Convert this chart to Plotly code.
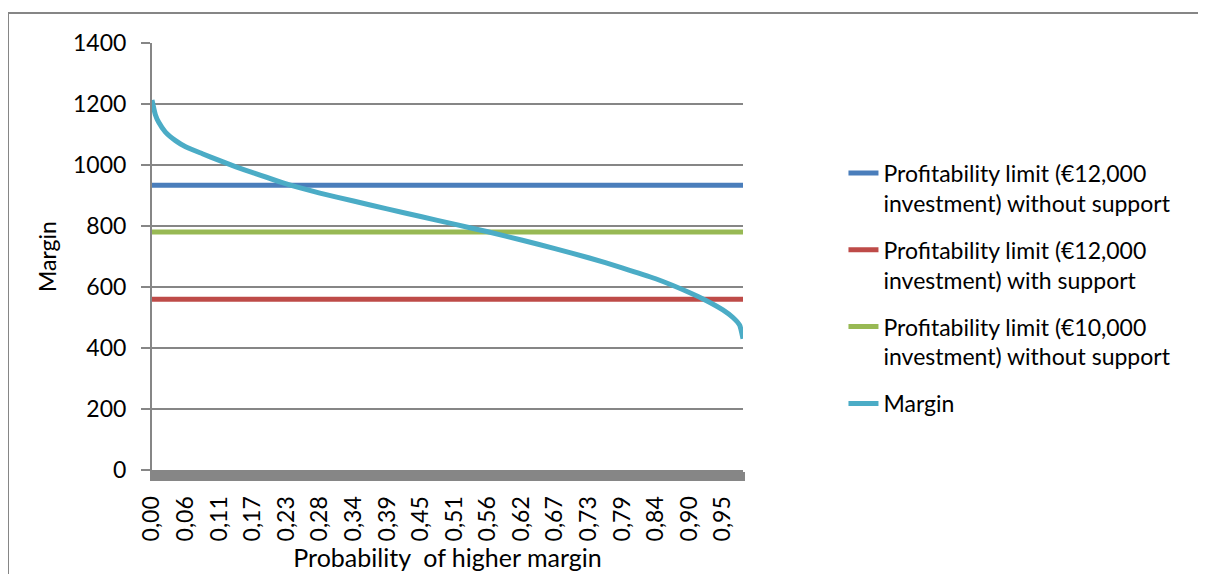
import plotly.graph_objects as go

# ---- data ----
n_categories = 177
tick_idx = [0, 10, 20, 30, 40, 50, 60, 70, 80, 90, 100, 110, 120, 130, 140, 150, 160, 170]
tick_labels = ["0,00", "0,06", "0,11", "0,17", "0,23", "0,28", "0,34", "0,39", "0,45",
               "0,51", "0,56", "0,62", "0,67", "0,73", "0,79", "0,84", "0,90", "0,95"]

margin_idx = [0, 1, 2, 4, 7, 10, 15, 20, 25, 30, 40, 50, 60, 70, 80, 90, 100,
              110, 120, 130, 140, 150, 160, 165, 170, 173, 175, 176]
margin_vals = [1213, 1165, 1140, 1108, 1080, 1060, 1037, 1015, 994, 975, 938, 908, 882, 856, 831, 806, 781,
               754, 726, 696, 663, 627, 582, 556, 525, 500, 475, 430]

limit_12k_no_support = 934
limit_12k_support = 560
limit_10k_no_support = 780

names = [
    "Profitability limit (€12,000<br>investment) without support",
    "Profitability limit (€12,000<br>investment) with support",
    "Profitability limit (€10,000<br>investment) without support",
    "Margin",
]
colors = ["#4A7EBB", "#BE4B48", "#98B954", "#4BACC6"]

FONT = "Lato"
FS = 23
GRAY = "#868686"

ends = [0, n_categories - 1]
fig = go.Figure()
for name, val, col in zip(names[:3], [limit_12k_no_support, limit_12k_support, limit_10k_no_support], colors[:3]):
    fig.add_trace(go.Scatter(x=ends, y=[val, val], mode="lines", name=name,
                             line=dict(color=col, width=5), legendgroup=name))
fig.add_trace(go.Scatter(x=margin_idx, y=margin_vals, mode="lines", name=names[3],
                         line=dict(color=colors[3], width=5, shape="spline", smoothing=0.5),
                         legendgroup=names[3]))

# page body has an 8px margin, so the figure is 16px smaller than the window
fig.update_layout(
    width=1190, height=566,
    margin=dict(l=144, r=455, t=35, b=104),
    paper_bgcolor="white", plot_bgcolor="white",
    font=dict(family=FONT, size=FS, color="black"),
    showlegend=True,
    legend=dict(x=1.17, xanchor="left", y=0.425, yanchor="middle",
                font=dict(family=FONT, size=FS, color="black"),
                valign="top", traceorder="grouped", tracegroupgap=14,
                bgcolor="rgba(0,0,0,0)"),
    xaxis=dict(range=[0, n_categories - 1], tickmode="array", tickvals=tick_idx, ticktext=tick_labels,
               tickangle=-90, ticks="outside", ticklen=9, tickwidth=4, tickcolor=GRAY,
               ticklabelstandoff=6,
               minor=dict(ticks="outside", dtick=1, tick0=0, ticklen=9, tickwidth=4, tickcolor=GRAY),
               showgrid=False, showline=True, linecolor=GRAY, linewidth=2, zeroline=False,
               title=dict(text="Probability\u00a0 of higher margin", font=dict(family=FONT, size=25), standoff=9),
               automargin=False, fixedrange=True),
    yaxis=dict(range=[0, 1400], tickvals=[0, 200, 400, 600, 800, 1000, 1200, 1400],
               ticks="outside", ticklen=9, tickwidth=2, tickcolor=GRAY, ticklabelstandoff=10,
               showgrid=True, gridcolor=GRAY, gridwidth=2, zeroline=False,
               showline=True, linecolor=GRAY, linewidth=2,
               title=dict(text="Margin", font=dict(family=FONT, size=FS), standoff=10),
               automargin=False, fixedrange=True),
)

# chart outer border (Excel chart area frame)
fig.add_shape(type="rect", xref="paper", yref="paper",
              x0=(8 - 152) / 591, x1=(1260 - 152) / 591,
              y0=(470 - 640) / 427, y1=(470 - 13) / 427,
              line=dict(color=GRAY, width=2), fillcolor="rgba(0,0,0,0)", layer="below")

fig.write_html("out.html")
